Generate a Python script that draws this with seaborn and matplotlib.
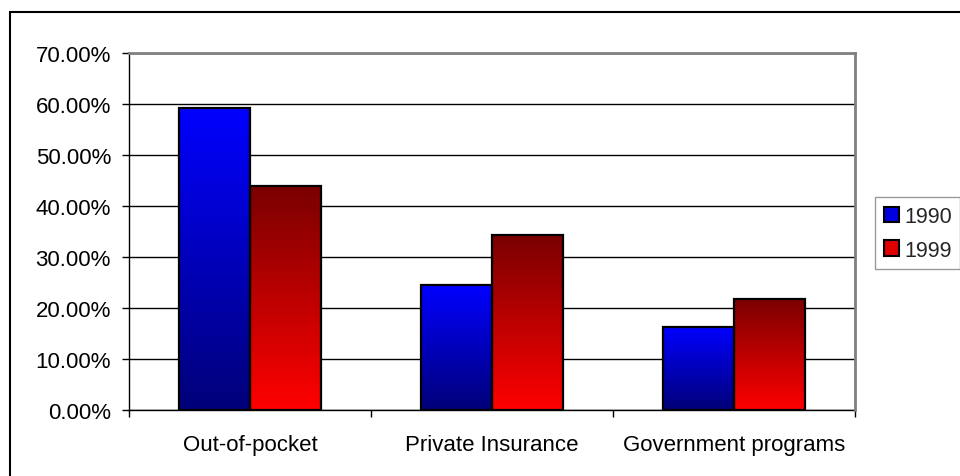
import numpy as np
import pandas as pd
import matplotlib
matplotlib.use("Agg")
import matplotlib.pyplot as plt
import seaborn as sns
from matplotlib.patches import Patch, Rectangle
from matplotlib.colors import LinearSegmentedColormap
from matplotlib.ticker import FuncFormatter, MultipleLocator

categories = ["Out-of-pocket", "Private Insurance", "Government programs"]
years = ["1990", "1999"]
values_1990 = [0.592, 0.245, 0.163]
values_1999 = [0.439, 0.343, 0.218]

df = pd.DataFrame({
    "category": categories * 2,
    "year": [years[0]] * 3 + [years[1]] * 3,
    "share": values_1990 + values_1999,
})

sns.set_theme(style="white")
plt.rcParams["font.family"] = ["Liberation Sans", "DejaVu Sans"]

W, H = 960, 477
fig = plt.figure(figsize=(W / 100, H / 100), dpi=100)
fig.patch.set_facecolor("white")
ax = fig.add_axes([129 / W, 1 - 411 / H, 726 / W, 357 / H])

sns.barplot(data=df, x="category", y="share", hue="year", hue_order=years,
            order=categories, palette=["#0000ff", "#ff0000"], width=0.585,
            gap=0, edgecolor="black", linewidth=1.6, ax=ax, legend=False,
            saturation=1)

cm_blue = LinearSegmentedColormap.from_list("b", ["#000078", "#0000ff"])
cm_red = LinearSegmentedColormap.from_list("r", ["#ff0000", "#7a0000"])
grad = np.linspace(0, 1, 256).reshape(-1, 1)
for bar in list(ax.patches):
    fc = bar.get_facecolor()
    if bar.get_height() == 0:
        continue
    cmap = cm_blue if fc[2] > fc[0] else cm_red
    x0, y0, w, h = bar.get_x(), bar.get_y(), bar.get_width(), bar.get_height()
    im = ax.imshow(grad, extent=[x0, x0 + w, y0, y0 + h], origin="lower",
                   cmap=cmap, aspect="auto", zorder=2, interpolation="bilinear")
    im.set_clip_path(bar)
    bar.set_facecolor("none")
    bar.set_zorder(3)

ax.set_xlim(-0.5, 2.5)
ax.set_ylim(0, 0.7)
ax.yaxis.set_major_locator(MultipleLocator(0.1))
ax.yaxis.set_major_formatter(FuncFormatter(lambda v, p: f"{v * 100:.2f}%"))
ax.set_xlabel("")
ax.set_ylabel("")

ax.yaxis.grid(True, color="black", linewidth=1.0)
ax.set_axisbelow(True)

for s in ["left", "bottom"]:
    ax.spines[s].set_color("black")
    ax.spines[s].set_linewidth(1.0)
for s in ["top", "right"]:
    ax.spines[s].set_color("#808080")
    ax.spines[s].set_linewidth(2.0)
    ax.spines[s].set_zorder(4)

ax.set_xticks([0, 1, 2])
ax.set_xticklabels(categories)
ax.set_xticks([-0.5, 0.5, 1.5, 2.5], minor=True)
ax.tick_params(axis="x", which="major", length=0, pad=17, labelsize=16, colors="black")
ax.tick_params(axis="x", which="minor", length=5, width=1, color="black", direction="out", bottom=True)
ax.tick_params(axis="y", which="major", length=5, width=1, color="black", direction="out",
               left=True, pad=8, labelsize=16, labelcolor="black")

# outer chart frame
fig.add_artist(Rectangle((10 / W, -0.2), 1.5, 1 - 13 / H + 0.2, transform=fig.transFigure,
                         fill=False, edgecolor="black", linewidth=1.5))

handles = [Patch(facecolor="#0000e0", edgecolor="black", linewidth=1.5),
           Patch(facecolor="#e00000", edgecolor="black", linewidth=1.5)]
leg = fig.legend(handles, years, loc="upper left", bbox_to_anchor=(875 / W, 1 - 198 / H),
                 fontsize=15.5, frameon=True, fancybox=False, handlelength=0.7,
                 handleheight=0.7, handletextpad=0.25, labelspacing=0.6,
                 borderpad=0.4, borderaxespad=0)
leg.get_frame().set_edgecolor("#808080")
leg.get_frame().set_linewidth(1.0)

fig.savefig("out.png", dpi=100, facecolor="white")
